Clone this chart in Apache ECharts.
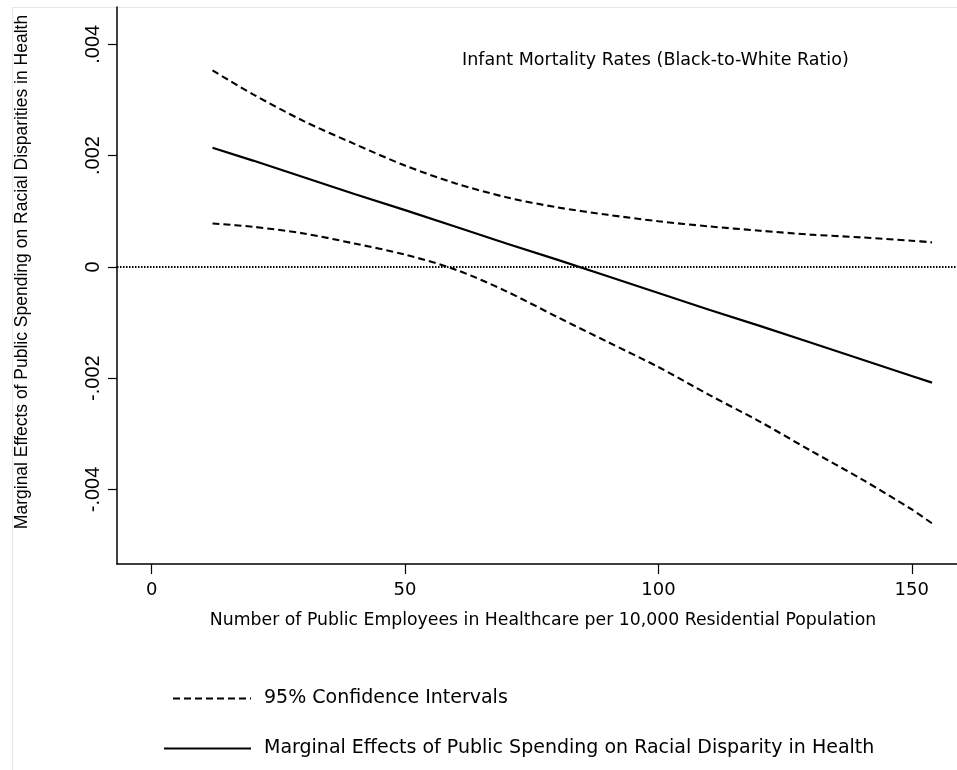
<!DOCTYPE html>
<html>
<head>
<meta charset="utf-8">
<script src="https://cdn.jsdelivr.net/npm/echarts@6/dist/echarts.min.js"></script>
<style>
  html, body { margin: 0; padding: 0; background: #ffffff; }
  #chart { width: 957px; height: 770px; }
</style>
</head>
<body>
<div id="chart"></div>
<script>
// Public healthcare employees per 10,000 residents
const employees = [12, 20, 30, 40, 50, 60, 70, 80, 90, 100, 110, 120, 130, 140, 150, 154];
// Marginal effect of public spending on the infant mortality disparity
const marginalEffect = [0.00214, 0.00191, 0.00161, 0.00131, 0.00102, 0.00072, 0.00042, 0.00013,
  -0.00017, -0.00047, -0.00077, -0.00106, -0.00136, -0.00166, -0.00196, -0.00208];
// 95% confidence bounds
const upperCI = [0.00353, 0.00310, 0.00262, 0.00221, 0.00182, 0.00150, 0.00125, 0.00107,
  0.000935, 0.00082, 0.000727, 0.00065, 0.00058, 0.00053, 0.00047, 0.00044];
const lowerCI = [0.00078, 0.00072, 0.00060, 0.00042, 0.00022, -0.00005, -0.00044, -0.00090,
  -0.00135, -0.00180, -0.00230, -0.00278, -0.00330, -0.00381, -0.00436, -0.00461];

// Axis ticks
const xTickValues = [0, 50, 100, 150];
const yTickValues = [-0.004, -0.002, 0, 0.002, 0.004];
const yTickLabels = ['-.004', '-.002', '0', '.002', '.004'];

const CI_NAME = '95% Confidence Intervals';
const ME_NAME = 'Marginal Effects of Public Spending on Racial Disparity in Health';
const Y_TITLE = 'Marginal Effects of Public Spending on Racial Disparities in Health';
const X_TITLE = 'Number of Public Employees in Healthcare per 10,000 Residential Population';
const NOTE = 'Infant Mortality Rates (Black-to-White Ratio)';

const pairs = (ys) => employees.map((x, i) => [x, ys[i]]);

const chart = echarts.init(document.getElementById('chart'), null, { renderer: 'canvas' });

const dashStyle = { color: '#000', width: 2.1, type: [7, 4] };
const legendText = { fontFamily: 'DejaVu Sans', fontSize: 19, color: '#000', padding: [0, 0, 0, 8] };

chart.setOption({
  backgroundColor: '#ffffff',
  animation: false,
  color: ['#000', '#000', '#000'],
  // plot region runs past the right edge of the canvas
  grid: { left: 117, top: 7, right: 0, bottom: 206, containLabel: false },
  xAxis: {
    type: 'value',
    min: -6.85,
    max: 158.93,
    name: X_TITLE,
    nameLocation: 'middle',
    nameGap: 48,
    nameTextStyle: { fontFamily: 'DejaVu Sans', fontSize: 17.3, color: '#000', padding: [0, 0, 0, 12] },
    axisLine: { onZero: false, lineStyle: { color: '#000', width: 1.5 } },
    axisTick: { show: true, length: 10, inside: false, customValues: xTickValues, lineStyle: { color: '#000', width: 1.2 } },
    axisLabel: { customValues: xTickValues, margin: 17, fontFamily: 'DejaVu Sans', fontSize: 18, color: '#000' },
    splitLine: { show: false }
  },
  yAxis: {
    type: 'value',
    min: -0.00534,
    max: 0.00467,
    axisLine: { show: true, onZero: false, lineStyle: { color: '#000', width: 1.5 } },
    axisTick: { show: true, length: 9, customValues: yTickValues, lineStyle: { color: '#000', width: 1.2 } },
    axisLabel: {
      customValues: yTickValues,
      rotate: 90,
      margin: 14,
      fontFamily: 'Liberation Sans',
      fontSize: 20,
      color: '#000',
      formatter: (v) => {
        const i = yTickValues.findIndex((t) => Math.abs(t - v) < 1e-9);
        return i >= 0 ? yTickLabels[i] : '';
      }
    },
    splitLine: { show: false }
  },
  legend: [
    {
      left: 172,
      top: 689,
      padding: 0,
      itemWidth: 78,
      itemHeight: 14,
      itemStyle: { opacity: 0 },
      textStyle: legendText,
      data: [CI_NAME]
    },
    {
      left: 163,
      top: 739,
      padding: 0,
      itemWidth: 87,
      itemHeight: 14,
      itemStyle: { opacity: 0 },
      textStyle: legendText,
      data: [ME_NAME]
    }
  ],
  graphic: [
    {
      type: 'rect',
      left: 10, top: 5,
      shape: { width: 1000, height: 1000 },
      style: { fill: 'none', stroke: '#e6e6e6', lineWidth: 1 },
      silent: true, z: -1
    },
    {
      type: 'text',
      x: 22, y: 272,
      rotation: Math.PI / 2,
      style: {
        text: Y_TITLE, x: 0, y: 0, align: 'center', verticalAlign: 'middle',
        fontFamily: 'Liberation Sans', fontSize: 17.5, fill: '#000'
      }
    },
    {
      type: 'text',
      left: 462, top: 51,
      style: { text: NOTE, fontFamily: 'DejaVu Sans', fontSize: 17.5, fill: '#000' }
    }
  ],
  series: [
    {
      name: CI_NAME,
      type: 'line',
      data: pairs(upperCI),
      smooth: 0.3,
      showSymbol: false,
      symbol: 'none',
      itemStyle: { color: '#000' },
      lineStyle: dashStyle,
      markLine: {
        silent: true,
        symbol: 'none',
        label: { show: false },
        lineStyle: { color: '#000', width: 2, type: [1.5, 1.5] },
        data: [{ yAxis: 0 }]
      }
    },
    {
      name: CI_NAME,
      type: 'line',
      data: pairs(lowerCI),
      smooth: 0.3,
      showSymbol: false,
      symbol: 'none',
      itemStyle: { color: '#000' },
      lineStyle: dashStyle
    },
    {
      name: ME_NAME,
      type: 'line',
      data: pairs(marginalEffect),
      showSymbol: false,
      symbol: 'none',
      itemStyle: { color: '#000' },
      lineStyle: { color: '#000', width: 2.2, type: 'solid' }
    }
  ]
});
</script>
</body>
</html>
